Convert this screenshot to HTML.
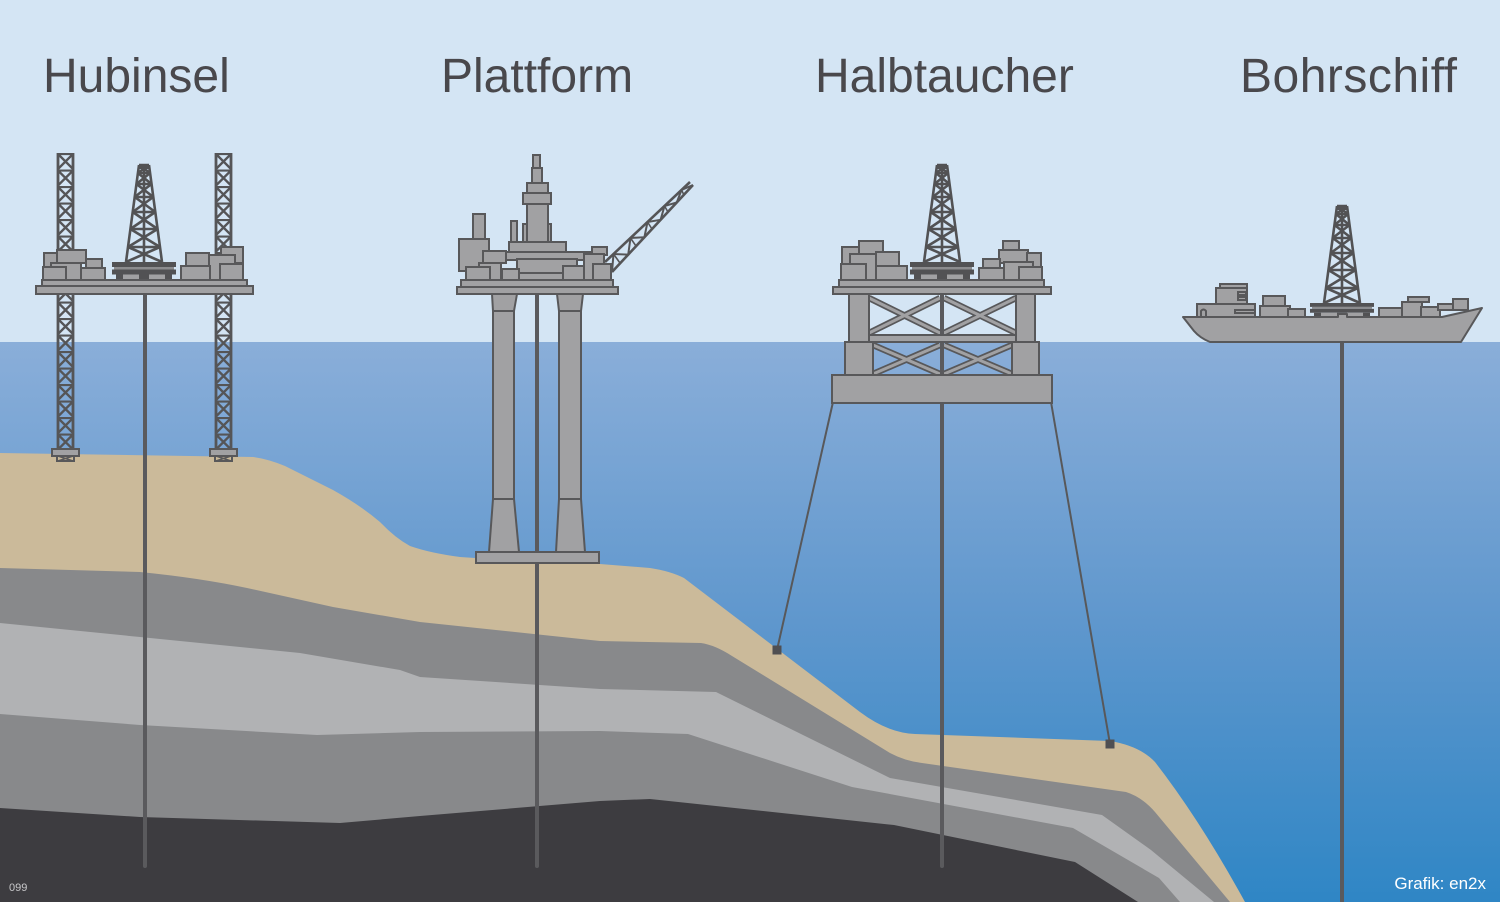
<!DOCTYPE html>
<html><head><meta charset="utf-8"><style>
html,body{margin:0;padding:0;background:#d4e5f4;}
svg{display:block;}
</style></head><body>
<svg width="1500" height="902" viewBox="0 0 1500 902" xmlns="http://www.w3.org/2000/svg">
<defs>
<linearGradient id="water" x1="0" y1="0" x2="0" y2="1">
<stop offset="0" stop-color="#8aaed9"/>
<stop offset="0.5" stop-color="#5f97cd"/>
<stop offset="1" stop-color="#2f86c5"/>
</linearGradient>
<pattern id="lat" width="17" height="16.5" patternUnits="userSpaceOnUse">
<path d="M0 1H17 M1.5 1.5L15.5 15.5 M15.5 1.5L1.5 15.5" stroke="#555557" stroke-width="2.3" fill="none"/>
</pattern>
<g id="der" stroke="#525254" stroke-width="2.6" fill="none">
<path d="M-5 0 L-18 97 M5 0 L18 97 M0 0 V97"/>
<path d="M-5 0H5 M-6.1 8H6.1 M-7.5 19H7.5 M-9.3 32H9.3 M-11.3 47H11.3 M-13.6 64H13.6 M-16 82H16"/>
<path d="M-5 0L6.1 8M5 0L-6.1 8 M-6.1 8L7.5 19M6.1 8L-7.5 19 M-7.5 19L9.3 32M7.5 19L-9.3 32 M-9.3 32L11.3 47M9.3 32L-11.3 47 M-11.3 47L13.6 64M11.3 47L-13.6 64 M-13.6 64L16 82M13.6 64L-16 82 M-16 82L18 97M16 82L-18 97"/>
<rect x="-5" y="-1" width="10" height="5" fill="#525254" stroke="none"/>
</g>
<g id="floor">
<rect x="-32" y="0" width="64" height="5" fill="#525254"/>
<rect x="-30" y="5" width="60" height="2.5" fill="#8c8c8e"/>
<rect x="-32" y="7.5" width="64" height="5" fill="#525254"/>
<rect x="-28" y="12.5" width="7" height="5.5" fill="#525254"/>
<rect x="-5" y="12.5" width="10" height="5.5" fill="#525254"/>
<rect x="21" y="12.5" width="7" height="5.5" fill="#525254"/>
<rect x="-21" y="12.5" width="16" height="5.5" fill="#a1a1a3"/>
<rect x="5" y="12.5" width="16" height="5.5" fill="#a1a1a3"/>
</g>
<g id="leg">
<rect x="0" y="0" width="17" height="297" fill="url(#lat)"/>
<path d="M1 0V297M16 0V297" stroke="#555557" stroke-width="2.8"/>
<rect x="-5" y="296" width="27" height="7" fill="#a1a1a3" stroke="#58585a" stroke-width="2"/>
<rect x="0" y="303" width="17" height="5" fill="none" stroke="#58585a" stroke-width="2"/>
<path d="M1 303L16 308M16 303L1 308" stroke="#58585a" stroke-width="1.6"/>
</g>
</defs>

<!-- sky & water -->
<rect x="0" y="0" width="1500" height="902" fill="#d4e5f4"/>
<rect x="0" y="342" width="1500" height="560" fill="url(#water)"/>

<!-- seabed layers -->
<path fill="#cbba9a" d="M0 453 L253 457 Q268 459 285 466 L333 490 Q360 505 380 522 Q395 538 410 546 Q430 553 460 557 L520 561 L600 564 L650 568 Q670 571 684 578 L860 712 Q888 733 915 734 L1110 741 Q1140 746 1155 762 Q1200 820 1245 902 L0 902 Z"/>
<path fill="#88898b" d="M0 568 L140 572 Q200 578 247 588 L333 607 L420 622 L600 641 L701 643 Q715 645 732 656 L890 753 Q905 761 922 763 L1126 792 Q1142 797 1155 812 L1230 902 L0 902 Z"/>
<path fill="#b1b2b4" d="M0 623 L140 637 L300 653 L400 670 L420 677 L600 689 L716 692 L890 778 L1102 815 L1151 850 L1214 902 L0 902 Z"/>
<path fill="#88898b" d="M0 714 L140 725 L317 735 L420 732 L600 731 L688 734 L852 787 L1073 828 L1159 878 L1180 902 L0 902 Z"/>
<path fill="#3d3c40" d="M0 808 L140 817 L340 823 L420 816 L600 801 L650 799 L894 825 L1075 862 L1138 902 L0 902 Z"/>

<!-- drill strings -->
<g stroke="#5a5a5d" stroke-width="4" stroke-linecap="round">
<line x1="145" y1="294" x2="145" y2="866"/>
<line x1="537" y1="294" x2="537" y2="866"/>
<line x1="942" y1="290" x2="942" y2="866"/>
<line x1="1342" y1="343" x2="1342" y2="910"/>
</g>

<!-- ============ HUBINSEL ============ -->
<use href="#leg" transform="translate(57,153)"/>
<use href="#leg" transform="translate(215,153)"/>
<use href="#der" transform="translate(144,165)"/>
<g fill="#a1a1a3" stroke="#58585a" stroke-width="2">
<rect x="44" y="253" width="13" height="14"/>
<rect x="57" y="250" width="29" height="13"/>
<rect x="86" y="259" width="16" height="9"/>
<rect x="51" y="263" width="30" height="17"/>
<rect x="43" y="267" width="23" height="13"/>
<rect x="81" y="268" width="24" height="12"/>
<rect x="186" y="253" width="23" height="13"/>
<rect x="221" y="247" width="22" height="16"/>
<rect x="209" y="255" width="26" height="25"/>
<rect x="181" y="266" width="29" height="14"/>
<rect x="220" y="264" width="23" height="16"/>
</g>
<use href="#floor" transform="translate(144,262)"/>
<g fill="#a1a1a3" stroke="#58585a" stroke-width="2">
<rect x="42" y="280" width="205" height="6"/>
<rect x="36" y="286" width="217" height="8"/>
</g>

<!-- ============ PLATTFORM ============ -->
<g fill="#a1a1a3" stroke="#58585a" stroke-width="2">
<!-- legs -->
<path d="M492 294 L517 294 L514 311 L514 499 L519 552 L489 552 L493 499 L493 311 Z"/>
<path d="M493 311H514 M493 499H514" fill="none"/>
<path d="M557 294 L583 294 L581 311 L581 499 L585 552 L556 552 L559 499 L559 311 Z"/>
<path d="M559 311H581 M559 499H581" fill="none"/>
<rect x="476" y="552" width="123" height="11"/>
<!-- crane boom -->
<path d="M612 272 L693 185 M605 262 L690 182" fill="none" stroke="#555557" stroke-width="2.6"/>
<path d="M612 272 L613.5 254 L628.2 254.6 L630.5 238 L644.4 237.2 L647.5 222 L660.6 219.8 L664.5 206 L676.8 202.4 L681.5 190 L693 185" fill="none" stroke="#555557" stroke-width="2"/>
<path d="M613.5 254 L620 263 M630.5 238 L636 246 M647.5 222 L652 229 M664.5 206 L668 212 M681.5 190 L684 195" fill="none" stroke="#555557" stroke-width="1.6"/>
<!-- topsides -->
<rect x="533" y="155" width="7" height="13"/>
<rect x="532" y="168" width="10" height="15"/>
<rect x="527" y="183" width="21" height="10"/>
<rect x="523" y="224" width="28" height="18"/>
<rect x="527" y="204" width="21" height="38"/>
<rect x="523" y="193" width="28" height="11"/>
<rect x="473" y="214" width="12" height="25"/>
<rect x="459" y="239" width="30" height="32"/>
<rect x="511" y="221" width="6" height="21"/>
<rect x="509" y="242" width="57" height="10"/>
<rect x="506" y="252" width="86" height="8"/>
<rect x="483" y="251" width="23" height="12"/>
<rect x="517" y="259" width="60" height="14"/>
<rect x="519" y="273" width="44" height="7"/>
<rect x="479" y="263" width="22" height="17"/>
<rect x="466" y="267" width="24" height="13"/>
<rect x="502" y="269" width="17" height="11"/>
<rect x="563" y="266" width="21" height="14"/>
<rect x="592" y="247" width="15" height="8"/>
<rect x="584" y="254" width="20" height="26"/>
<rect x="593" y="264" width="18" height="16"/>
<rect x="461" y="280" width="152" height="7"/>
<rect x="457" y="287" width="161" height="7"/>
</g>

<!-- ============ HALBTAUCHER ============ -->
<!-- mooring lines -->
<g stroke="#58585a" stroke-width="2">
<line x1="833" y1="402" x2="777" y2="650"/>
<line x1="1051" y1="402" x2="1110" y2="744"/>
</g>
<rect x="772.5" y="645.5" width="9" height="9" fill="#4f4f52"/>
<rect x="1105.5" y="739.5" width="9" height="9" fill="#4f4f52"/>
<!-- braces -->
<g stroke-linecap="butt">
<path d="M869 298 L940 333 M869 333 L940 298 M944 298 L1016 333 M944 333 L1016 298 M873 345 L940 374 M873 374 L940 345 M944 345 L1012 374 M944 374 L1012 345" stroke="#58585a" stroke-width="6.5" fill="none"/>
<path d="M869 298 L940 333 M869 333 L940 298 M944 298 L1016 333 M944 333 L1016 298 M873 345 L940 374 M873 374 L940 345 M944 345 L1012 374 M944 374 L1012 345" stroke="#a1a1a3" stroke-width="3" fill="none"/>
</g>
<line x1="942" y1="290" x2="942" y2="380" stroke="#5a5a5d" stroke-width="4"/>
<g fill="#a1a1a3" stroke="#58585a" stroke-width="2">
<rect x="849" y="294" width="20" height="48"/>
<rect x="1016" y="294" width="19" height="48"/>
<rect x="869" y="335" width="147" height="7"/>
<rect x="845" y="342" width="28" height="33"/>
<rect x="1012" y="342" width="27" height="33"/>
<rect x="832" y="375" width="220" height="28"/>
</g>
<use href="#der" transform="translate(942,165)"/>
<g fill="#a1a1a3" stroke="#58585a" stroke-width="2">
<rect x="842" y="247" width="22" height="17"/>
<rect x="859" y="241" width="24" height="14"/>
<rect x="850" y="254" width="26" height="26"/>
<rect x="841" y="264" width="25" height="16"/>
<rect x="876" y="252" width="23" height="15"/>
<rect x="876" y="266" width="31" height="14"/>
<rect x="1003" y="241" width="16" height="9"/>
<rect x="999" y="250" width="29" height="13"/>
<rect x="983" y="259" width="17" height="10"/>
<rect x="979" y="268" width="25" height="12"/>
<rect x="1027" y="253" width="14" height="15"/>
<rect x="1004" y="262" width="29" height="18"/>
<rect x="1019" y="267" width="23" height="13"/>
</g>
<use href="#floor" transform="translate(942,262)"/>
<g fill="#a1a1a3" stroke="#58585a" stroke-width="2">
<rect x="839" y="280" width="205" height="7"/>
<rect x="833" y="287" width="218" height="7"/>
</g>

<!-- ============ BOHRSCHIFF ============ -->
<use href="#der" transform="translate(1342,206)"/>
<g fill="#a1a1a3" stroke="#58585a" stroke-width="2">
<rect x="1220" y="284" width="27" height="5"/>
<rect x="1216" y="288" width="31" height="29"/>
<rect x="1238" y="292" width="8" height="3"/>
<rect x="1238" y="297" width="8" height="3"/>
<rect x="1197" y="304" width="58" height="13"/>
<path d="M1201 317 V311 Q1203.5 308 1206 311 V317" fill="none"/>
<rect x="1235" y="310" width="20" height="3"/>
<rect x="1263" y="296" width="22" height="10"/>
<rect x="1260" y="306" width="30" height="11"/>
<rect x="1288" y="309" width="17" height="8"/>
<rect x="1379" y="308" width="23" height="9"/>
<rect x="1408" y="297" width="21" height="5"/>
<rect x="1402" y="302" width="20" height="15"/>
<rect x="1421" y="307" width="19" height="10"/>
<rect x="1438" y="304" width="15" height="6"/>
<rect x="1453" y="299" width="15" height="11"/>
</g>
<use href="#floor" transform="translate(1342,303) scale(1,0.78)"/>
<path d="M1183 317 L1338 317 L1338 314 L1347 314 L1347 317 L1442 317 L1482 308 L1461 342 L1210 342 Q1200 338 1194 331 Z" fill="#a1a1a3" stroke="#58585a" stroke-width="2" stroke-linejoin="round"/>

<!-- titles -->
<g font-family="'Liberation Sans', Arial, sans-serif" font-size="48" fill="#49484c">
<text x="43" y="92">Hubinsel</text>
<text x="441" y="92">Plattform</text>
<text x="815" y="92">Halbtaucher</text>
<text x="1240" y="92" textLength="217" lengthAdjust="spacing">Bohrschiff</text>
</g>
<text x="1486" y="889" text-anchor="end" font-family="'Liberation Sans', Arial, sans-serif" font-size="17" fill="#ffffff">Grafik: en2x</text>
<text x="9" y="891" font-family="'Liberation Sans', Arial, sans-serif" font-size="11" fill="#c8c8ca">099</text>
</svg>
</body></html>
